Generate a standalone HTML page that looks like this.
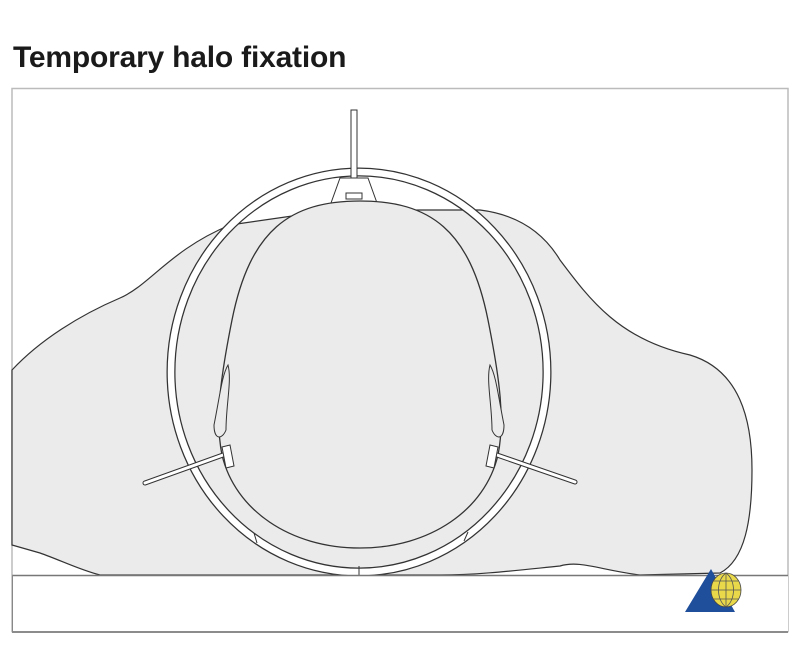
<!DOCTYPE html>
<html><head><style>
html,body{margin:0;padding:0;background:#fff;width:800px;height:650px;overflow:hidden}
.t{position:absolute;left:13px;top:41px;font:bold 30px "Liberation Sans",Arial,sans-serif;color:#1a1a1a;letter-spacing:-0.2px}
svg{position:absolute;left:0;top:0}
</style></head><body>
<div class="t">Temporary halo fixation</div>
<svg width="800" height="650" viewBox="0 0 800 650">
<rect x="12" y="88.5" width="776" height="543" fill="#fff" stroke="#bbb" stroke-width="1.5"/>
<path d="M12,370 C40,340 80,315 120,298 C150,285 170,250 230,225 L320,212 L420,210 L480,210 C520,215 545,235 560,260 C590,300 620,340 690,355 C740,370 752,420 752,470 C752,520 745,560 720,573 L640,575 C600,570 580,560 560,566 C520,570 480,575 440,575 L100,575 C80,570 60,560 40,553 L12,545 Z" fill="#ebebeb" stroke="#333" stroke-width="1.2"/>
<ellipse cx="359" cy="372" rx="188" ry="200" fill="none" stroke="#333" stroke-width="9"/>
<ellipse cx="359" cy="372" rx="188" ry="200" fill="none" stroke="#fff" stroke-width="6.5"/>
<rect x="351" y="110" width="6" height="68" fill="#fff" stroke="#333" stroke-width="1"/>
<path d="M340,178 L368,178 L377,203 L331,203 Z" fill="#fff" stroke="#333" stroke-width="1"/>
<rect x="346" y="193" width="16" height="6" fill="#fff" stroke="#333" stroke-width="1"/>
<path d="M360,201 C430,201 470,230 488,320 C500,380 505,420 498,455 C485,510 430,548 360,548 C290,548 235,510 222,455 C215,420 220,380 232,320 C250,230 290,201 360,201 Z" fill="#ebebeb" stroke="#333" stroke-width="1.3"/>
<path d="M228,365 C222,375 220,395 214,425 C214,440 222,440 226,430 C226,405 232,380 228,365 Z" fill="#ebebeb" stroke="#333" stroke-width="1"/>
<path d="M490,365 C496,375 498,395 504,425 C504,440 496,440 492,430 C492,405 486,380 490,365 Z" fill="#ebebeb" stroke="#333" stroke-width="1"/>
<path d="M145,483 L223,455" stroke="#333" stroke-width="5" stroke-linecap="round"/>
<path d="M145,483 L223,455" stroke="#fff" stroke-width="3" stroke-linecap="round"/>
<path d="M222,447 L230,445 L234,466 L226,468 Z" fill="#fff" stroke="#333" stroke-width="1"/>
<path d="M575,482 L497,455" stroke="#333" stroke-width="5" stroke-linecap="round"/>
<path d="M575,482 L497,455" stroke="#fff" stroke-width="3" stroke-linecap="round"/>
<path d="M498,447 L490,445 L486,466 L494,468 Z" fill="#fff" stroke="#333" stroke-width="1"/>
<line x1="254" y1="533" x2="257" y2="543" stroke="#333"/>
<line x1="359" y1="566" x2="359" y2="576" stroke="#333"/>
<line x1="468" y1="532" x2="464" y2="541" stroke="#333"/>
<rect x="12" y="575" width="776" height="57" fill="#fff"/>
<line x1="12" y1="575.5" x2="788" y2="575.5" stroke="#777" stroke-width="1.5"/>
<line x1="12" y1="632" x2="788" y2="632" stroke="#666" stroke-width="1.5"/>
<line x1="12.5" y1="575" x2="12.5" y2="632" stroke="#888"/>
<path d="M711,569 L735,612 L685,612 Z" fill="#1f4e9a"/>
<ellipse cx="726" cy="590" rx="15" ry="17" fill="#e8d84a" stroke="#444" stroke-width="0.8"/>
<path d="M711,590 H741 M713,581 H739 M713,599 H739 M726,573 V607 M726,573 C716,580 716,600 726,607 M726,573 C736,580 736,600 726,607" fill="none" stroke="#555" stroke-width="0.8"/>
</svg>
</body></html>
